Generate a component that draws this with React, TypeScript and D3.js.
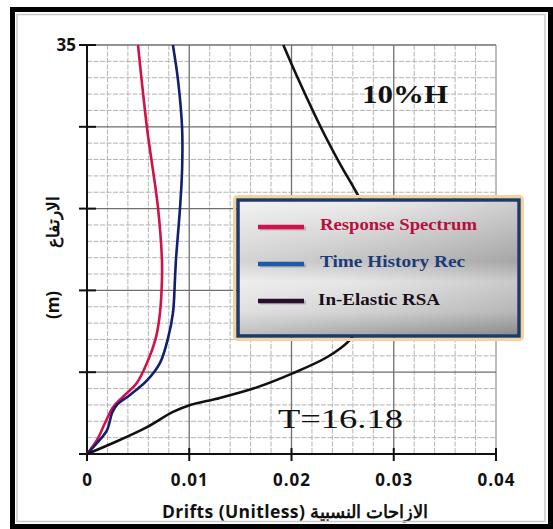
import * as d3 from "d3";

// drift profiles, height (m) vs drift
const rsHeight = [0, 1.2, 2.65, 4.0, 4.9, 6.1, 7.8, 10.0, 12.1, 14.9, 16.6, 21.1, 27.9, 35];
const rsDrift = [0, 0.00098, 0.00176, 0.00254, 0.00352, 0.00489, 0.00587, 0.00675, 0.00714, 0.00733, 0.00733, 0.00694, 0.00587, 0.00499];

const thHeight = [0, 0.94, 2.05, 3.5, 4.2, 5.05, 6.3, 7.8, 9.9, 12.1, 14.9, 16.6, 21.1, 24.3, 27.9, 32.0, 35];
const thDrift = [0, 0.00098, 0.00196, 0.00245, 0.00293, 0.0042, 0.00587, 0.00714, 0.00792, 0.00841, 0.0086, 0.0087, 0.0091, 0.0093, 0.0093, 0.0089, 0.0084];

const ieHeight = [0, 0.94, 2.3, 3.6, 4.2, 4.8, 5.7, 6.9, 8.3, 9.75, 12, 15, 18, 20.5, 22.3, 24.9, 27.9, 32.0, 35];
const ieDrift = [0, 0.00254, 0.00587, 0.0084, 0.0101, 0.013, 0.0166, 0.0201, 0.0235, 0.0257, 0.0274, 0.0283, 0.0281, 0.0274, 0.0264, 0.0247, 0.0229, 0.0207, 0.0192];

const xTicks = [0, 0.01, 0.02, 0.03, 0.04];
const xTickLabels = ["0", "0.01", "0.02", "0.03", "0.04"];
const yTicks = [0, 7, 14, 21, 28, 35];
const yTickLabels = ["", "", "", "", "", "35"];

const seriesNames = ["Response Spectrum", "Time History Rec", "In-Elastic RSA"];
const seriesColors = ["#d0124b", "#111f6e", "#141014"];
const legendSwatch = ["#d0124b", "#1f5aa6", "#2a0c2e"];
const legendText = ["#b80f3c", "#1d3a78", "#1a0d1a"];

export default function App() {
  const width = 553;
  const height = 529;

  const x = d3.scaleLinear().domain([0, 0.04]).range([87, 496]);
  const y = d3.scaleLinear().domain([0, 35]).range([454, 45]);

  const line = d3
    .line<[number, number]>()
    .x((d) => x(d[1]))
    .y((d) => y(d[0]))
    .curve(d3.curveCatmullRom.alpha(0.5));

  const series = [
    d3.zip(rsHeight, rsDrift) as [number, number][],
    d3.zip(thHeight, thDrift) as [number, number][],
    d3.zip(ieHeight, ieDrift) as [number, number][],
  ];

  const minorX = d3.range(0.002, 0.0401, 0.002).filter((v) => Math.abs(v / 0.01 - Math.round(v / 0.01)) > 1e-6);
  const minorY = d3.range(1.4, 35.01, 1.4).filter((v) => Math.abs(v / 7 - Math.round(v / 7)) > 1e-6);

  return (
    <svg width={width} height={height} style={{ position: "absolute", left: 0, top: 0 }}>
      <defs>
        <linearGradient id="legBg" x1="0" y1="0" x2="0" y2="1">
          <stop offset="0%" stopColor="#ececec" />
          <stop offset="25%" stopColor="#d2d2d2" />
          <stop offset="45%" stopColor="#bdbdbd" />
          <stop offset="60%" stopColor="#e4e4e4" />
          <stop offset="82%" stopColor="#cfcfcf" />
          <stop offset="100%" stopColor="#9c9c9c" />
        </linearGradient>
        <linearGradient id="legSide" x1="0" y1="0" x2="1" y2="0">
          <stop offset="0%" stopColor="#ffffff" stopOpacity={0.35} />
          <stop offset="40%" stopColor="#ffffff" stopOpacity={0.1} />
          <stop offset="100%" stopColor="#000000" stopOpacity={0.12} />
        </linearGradient>
      </defs>

      <rect x={0} y={0} width={width} height={height} fill="#fff" />

      {/* minor grid */}
      <g stroke="#b4b4b4" strokeWidth={1} strokeDasharray="5 1.5">
        {minorX.map((v) => (
          <line key={"mx" + v} x1={x(v)} x2={x(v)} y1={y(35)} y2={y(0)} />
        ))}
        {minorY.map((v) => (
          <line key={"my" + v} x1={x(0)} x2={x(0.04)} y1={y(v)} y2={y(v)} />
        ))}
      </g>
      {/* major grid */}
      <g stroke="#6f6f6f" strokeWidth={1.3}>
        {xTicks.slice(1).map((v) => (
          <line key={"Mx" + v} x1={x(v)} x2={x(v)} y1={y(35)} y2={y(0)} stroke={v === 0.04 ? "#9a9a9a" : "#6f6f6f"} />
        ))}
        {yTicks.slice(1).map((v) => (
          <line key={"My" + v} x1={x(0)} x2={x(0.04)} y1={y(v)} y2={y(v)} />
        ))}
      </g>

      {/* axes */}
      <g stroke="#111" strokeWidth={2}>
        <line x1={x(0)} x2={x(0)} y1={y(35)} y2={y(0)} />
        <line x1={x(0)} x2={x(0.04)} y1={y(0)} y2={y(0)} />
        {yTicks.map((v) => (
          <line key={"yt" + v} x1={x(0) - 8} x2={x(0) + 9} y1={y(v)} y2={y(v)} />
        ))}
        {xTicks.map((v) => (
          <line key={"xt" + v} x1={x(v)} x2={x(v)} y1={y(0) - 6} y2={y(0) + 7} />
        ))}
      </g>

      <g fontFamily="'Open Sans', sans-serif" fontWeight={700} fontSize={17} fill="#111">
        {yTicks.map((v, i) =>
          yTickLabels[i] ? (
            <text key={"yl" + v} x={x(0) - 11} y={y(v) + 6} textAnchor="end">
              {yTickLabels[i]}
            </text>
          ) : null
        )}
        {xTicks.map((v, i) => (
          <text key={"xl" + v} x={x(v) + 0.5} y={486} textAnchor="middle" letterSpacing={1}>
            {xTickLabels[i]}
          </text>
        ))}
        <text x={162} y={518} fontSize={17.5} fontWeight={700} letterSpacing={0.4}>
          Drifts (Unitless) الازاحات النسبية
        </text>
        <text transform="translate(59,305) rotate(-90)" textAnchor="middle" fontSize={17} fontWeight={700}>
          (m)
        </text>
        <text transform="translate(59,222) rotate(-90)" textAnchor="middle" fontSize={17} fontWeight={700}>
          الارتفاع
        </text>
      </g>

      {/* curves */}
      {series.map((s, i) => (
        <path key={"s" + i} d={line(s) || ""} fill="none" stroke={seriesColors[i]} strokeWidth={2.6} strokeLinejoin="round" />
      ))}

      <text x={362} y={103} fontFamily="'Liberation Serif', serif" fontWeight={700} fontSize={26} textLength={86} lengthAdjust="spacingAndGlyphs" fill="#111">
        10%H
      </text>
      <text x={278} y={428} fontFamily="'Liberation Serif', serif" fontSize={27} textLength={125} lengthAdjust="spacingAndGlyphs" fill="#111">
        T=16.18
      </text>

      {/* legend */}
      <rect x={234.5} y={196.5} width={288} height={143} rx={3} fill="none" stroke="#f3d29c" strokeWidth={3} />
      <rect x={238} y={200} width={281} height={136} fill="url(#legBg)" stroke="#1f3a66" strokeWidth={3.5} />
      <rect x={240} y={202} width={277} height={132} fill="url(#legSide)" />
      {seriesNames.map((n, i) => {
        const cy = 227 + i * 37;
        return (
          <g key={"lg" + i}>
            <line x1={260} x2={306} y1={cy + 1.5} y2={cy + 1.5} stroke="#000" strokeOpacity={0.18} strokeWidth={4} />
            <line x1={258} x2={304} y1={cy} y2={cy} stroke={legendSwatch[i]} strokeWidth={4.5} />
            <text
              x={i === 2 ? 318 : 320}
              y={cy + 3 + (i === 2 ? 1 : 0)}
              fontFamily="'Liberation Serif', serif"
              fontWeight={700}
              fontSize={17}
              fill={legendText[i]}
              textLength={[157, 145, 122][i]}
              lengthAdjust="spacingAndGlyphs"
            >
              {n}
            </text>
          </g>
        );
      })}

      {/* frame */}
      <rect x={17} y={14.5} width={528} height={507} fill="none" stroke="#c9c9c9" strokeWidth={1.5} />
      <rect x={12.5} y={9.5} width={538} height={517} fill="none" stroke="#000" strokeWidth={5} />
    </svg>
  );
}
